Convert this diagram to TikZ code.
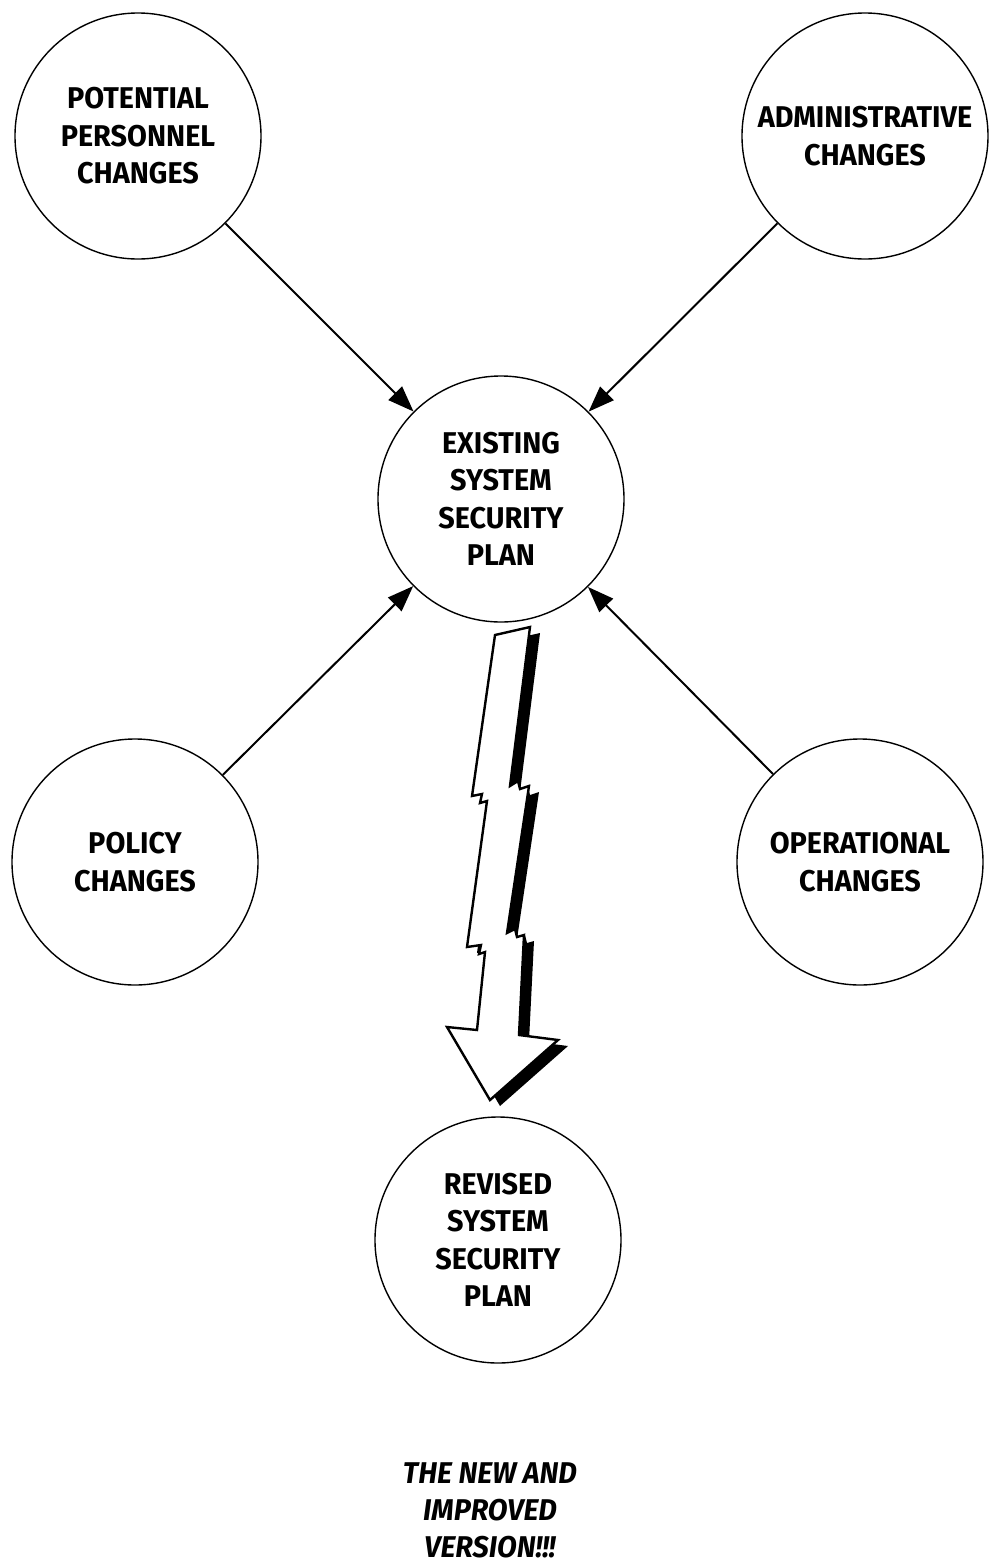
\documentclass[tikz,border=0pt]{standalone}
\usepackage{fontspec}
\newfontfamily\lblfont{Fira Sans}[FakeStretch=0.96]
\usetikzlibrary{arrows.meta}
\begin{document}
\begin{tikzpicture}[x=0.5pt,y=-0.5pt,
  bubble/.style={circle,draw,line width=0.7pt,minimum size=123pt,inner sep=0pt,
    align=center,font=\lblfont\bfseries\fontsize{15}{18.75}\selectfont},
  feed/.style={line width=1pt,-{Triangle[length=13pt,width=9.5pt]}},
  tagline/.style={align=center,font=\lblfont\bfseries\itshape\fontsize{15}{18.5}\selectfont},
  boltshape/.style={insert path={(495,635) -- (530,627) -- (510,786) -- (518,781)
    -- (520,789) -- (529,786) -- (507,933) -- (515,929) -- (517,937) -- (524,935)
    -- (519,1035) -- (558,1040) -- (490,1100) -- (447,1027) -- (477,1030)
    -- (485,952) -- (479,954) -- (481,945) -- (467,947) -- (487,801) -- (480,803)
    -- (482,794) -- (472,796) -- cycle}}]
\useasboundingbox (0,0) rectangle (1001,1565);
\fill[white] (0,0) rectangle (1001,1565);

% the plan and the four sources of change
\node[bubble] (pp)  at (138,136) {POTENTIAL\\PERSONNEL\\CHANGES};
\node[bubble] (adm) at (865,136) {ADMINISTRATIVE\\CHANGES};
\node[bubble] (esp) at (501,499) {EXISTING\\SYSTEM\\SECURITY\\PLAN};
\node[bubble] (pol) at (135,862) {POLICY\\CHANGES};
\node[bubble] (ops) at (860,862) {OPERATIONAL\\CHANGES};
\node[bubble] (rsp) at (498,1240) {REVISED\\SYSTEM\\SECURITY\\PLAN};
\node[tagline] (tag) at (490,1510) {THE NEW AND\\IMPROVED\\VERSION!!!};

\draw[feed] (pp)  -- (esp);
\draw[feed] (adm) -- (esp);
\draw[feed] (pol) -- (esp);
\draw[feed] (ops) -- (esp);

% lightning-bolt arrow with drop shadow
\fill[black,shift={(10,6)},boltshape];
\filldraw[fill=white,draw=black,line width=1.2pt,line join=miter,boltshape];
\end{tikzpicture}
\end{document}
